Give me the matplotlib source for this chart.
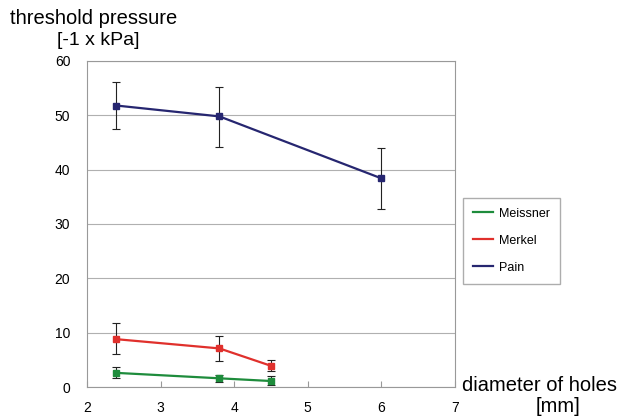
import matplotlib.pyplot as plt

plt.rcParams['font.family'] = ['Liberation Sans', 'DejaVu Sans']

# hole diameter [mm]
x_small = [2.4, 3.8, 4.5]
x_pain = [2.4, 3.8, 6.0]

meissner = [2.6, 1.6, 1.1]
meissner_lo = [1.6, 1.0, 0.3]
meissner_hi = [3.6, 2.2, 2.0]

merkel = [8.8, 7.1, 3.9]
merkel_lo = [6.0, 4.8, 3.0]
merkel_hi = [11.7, 9.4, 5.0]

pain = [51.8, 49.8, 38.4]
pain_lo = [47.5, 44.2, 32.8]
pain_hi = [56.2, 55.3, 43.9]

fig = plt.figure(figsize=(6.19, 4.16), dpi=100)
ax = fig.add_axes([0.1405, 0.0697, 0.5945, 0.7837])

series = [
    ("Meissner", x_small, meissner, meissner_lo, meissner_hi, "#1e8c3c"),
    ("Merkel", x_small, merkel, merkel_lo, merkel_hi, "#e0302c"),
    ("Pain", x_pain, pain, pain_lo, pain_hi, "#262670"),
]
handles = []
for name, xs, ys, lo, hi, col in series:
    err = [[y - l for y, l in zip(ys, lo)], [h - y for y, h in zip(ys, hi)]]
    ax.errorbar(xs, ys, yerr=err, fmt="none", ecolor="#222222", elinewidth=0.8,
                capsize=3, capthick=0.8, zorder=2)
    line, = ax.plot(xs, ys, color=col, lw=1.6, marker="s", ms=4.5, label=name, zorder=3)
    handles.append(line)

ax.set_xlim(2, 7)
ax.set_ylim(0, 60)
ax.set_yticks(range(0, 61, 10))
ax.grid(axis="y", color="#b0b0b0", lw=0.8)
ax.set_axisbelow(True)
for s in ax.spines.values():
    s.set_color("#999999")
ax.tick_params(axis="x", direction="in", length=4, pad=10, colors="#999999",
               labelcolor="black", labelsize=10)
ax.tick_params(axis="y", length=0, pad=12, labelsize=10)

leg = ax.legend(handles=handles, loc="upper left",
                bbox_to_anchor=(1.005, 0.6), frameon=True, fancybox=False,
                edgecolor="#999999", fontsize=9, handlelength=1.6,
                handletextpad=0.45, labelspacing=1.2, borderpad=0.8)
for h in leg.legend_handles:
    h.set_marker("")

fig.text(0.016, 0.955, "threshold pressure", ha="left", va="center", fontsize=14.5)
fig.text(0.092, 0.903, "[-1 x kPa]", ha="left", va="center", fontsize=14)
fig.text(0.746, 0.073, "diameter of holes", ha="left", va="center", fontsize=14.5)
fig.text(0.866, 0.022, "[mm]", ha="left", va="center", fontsize=14.5)

fig.savefig("out.png", dpi=100)
